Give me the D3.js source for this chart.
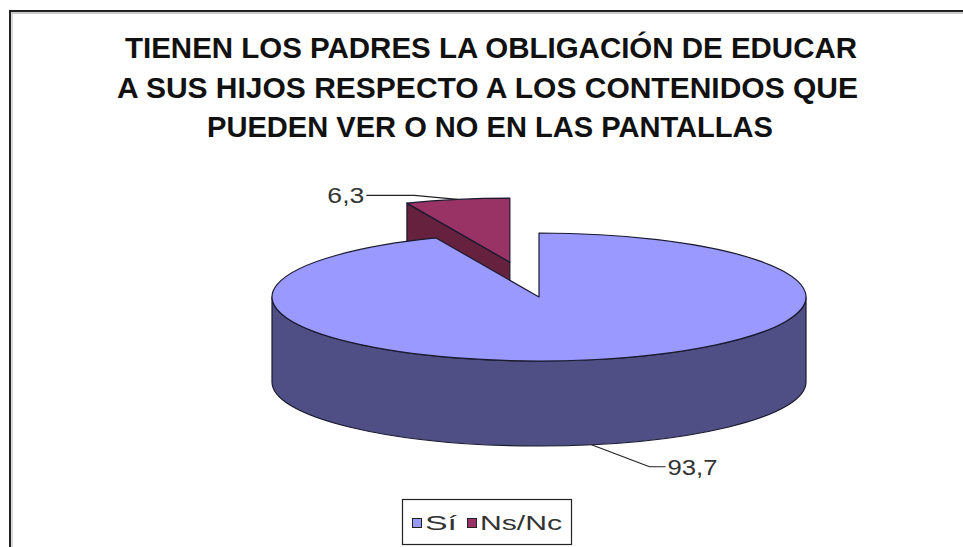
<!DOCTYPE html>
<html>
<head>
<meta charset="utf-8">
<script src="https://cdn.jsdelivr.net/npm/d3@7"></script>
<style>
html,body{margin:0;padding:0;background:#fff;}
svg{display:block;}
</style>
</head>
<body>
<svg id="chart" width="963" height="547"></svg>
<script>
// ---- data ----
const titleLines = [
  "TIENEN LOS PADRES LA OBLIGACIÓN DE EDUCAR",
  "A SUS HIJOS RESPECTO A LOS CONTENIDOS QUE",
  "PUEDEN VER O NO EN LAS PANTALLAS"
];
const categories = ["Sí", "Ns/Nc"];
const values = [93.7, 6.3];
const valueLabels = ["93,7", "6,3"];

// ---- style / layout ----
const topColors = ["#9999FF", "#993366"];
const sideColors = ["#4F4F86", "#66213F"];
const exploded = [0, 0.555];
const W = 963, H = 547;
const cx = 539, cy = 297, rx = 267, ry = 64, depth = 85;

const svg = d3.select("#chart");
svg.append("rect").attr("width", W).attr("height", H).attr("fill", "#fff");

// frame (top + left border with slight shadow)
svg.append("line").attr("x1", 9).attr("x2", W).attr("y1", 13).attr("y2", 13).attr("stroke", "#bbb").attr("stroke-width", 1.5);
svg.append("line").attr("x1", 12).attr("x2", 12).attr("y1", 10).attr("y2", H).attr("stroke", "#ccc").attr("stroke-width", 1.5);
svg.append("line").attr("x1", 9).attr("x2", W).attr("y1", 11).attr("y2", 11).attr("stroke", "#222").attr("stroke-width", 2);
svg.append("line").attr("x1", 10).attr("x2", 10).attr("y1", 10).attr("y2", H).attr("stroke", "#222").attr("stroke-width", 2);

// title
const titleX = [125, 117, 207], titleW = [732, 741, 566], titleY = [58, 98, 137];
svg.append("g").selectAll("text").data(titleLines).join("text")
  .attr("x", (d, i) => titleX[i]).attr("y", (d, i) => titleY[i])
  .attr("textLength", (d, i) => titleW[i]).attr("lengthAdjust", "spacingAndGlyphs")
  .attr("font-family", "Liberation Sans, Arial, sans-serif").attr("font-weight", "bold")
  .attr("font-size", 29).attr("fill", "#111").text(d => d);

// pie geometry via d3.pie
const pie = d3.pie().sort(null).value(d => d)(values);
const slices = pie.map((p, i) => {
  const mid = (p.startAngle + p.endAngle) / 2;
  const e = exploded[i];
  return {
    i, a0: p.startAngle, a1: p.endAngle, mid,
    c: [cx + rx * e * Math.sin(mid), cy - ry * e * Math.cos(mid)]
  };
});
const pt = (c, a, dz = 0) => [c[0] + rx * Math.sin(a), c[1] - ry * Math.cos(a) + dz];
const f = p => p[0].toFixed(2) + "," + p[1].toFixed(2);

function topPath(s) {
  const p0 = pt(s.c, s.a0), p1 = pt(s.c, s.a1);
  const large = (s.a1 - s.a0) > Math.PI ? 1 : 0;
  return `M${f(s.c)}L${f(p0)}A${rx},${ry} 0 ${large} 1 ${f(p1)}Z`;
}
function radialPath(s, a) {
  const p = pt(s.c, a);
  return `M${f(s.c)}L${f(p)}L${f([p[0], p[1] + depth])}L${f([s.c[0], s.c[1] + depth])}Z`;
}
function sidePath(s) {
  const st = Math.max(s.a0, Math.PI / 2), en = Math.min(s.a1, 3 * Math.PI / 2);
  if (en <= st) return null;
  const p0 = pt(s.c, st), p1 = pt(s.c, en);
  const q0 = pt(s.c, st, depth), q1 = pt(s.c, en, depth);
  const large = (en - st) > Math.PI ? 1 : 0;
  return `M${f(p0)}A${rx},${ry} 0 ${large} 1 ${f(p1)}L${f(q1)}A${rx},${ry} 0 ${large} 0 ${f(q0)}Z`;
}

const g = svg.append("g").attr("stroke", "#1a1a2e").attr("stroke-width", 1.2).attr("stroke-linejoin", "round");
// draw back (exploded) slice first, then front slice
const order = [1, 0];
order.forEach(i => {
  const s = slices[i];
  if (Math.sin(s.a0) < -1e-6) g.append("path").attr("d", radialPath(s, s.a0)).attr("fill", sideColors[i]);
  if (Math.sin(s.a1) > 1e-6) g.append("path").attr("d", radialPath(s, s.a1)).attr("fill", sideColors[i]);
  const sp = sidePath(s);
  if (sp) g.append("path").attr("d", sp).attr("fill", sideColors[i]);
  g.append("path").attr("d", topPath(s)).attr("fill", topColors[i]);
});

// value labels with leader lines
const leaderOffsets = [[[58, 22], [16, 0]], [[-43, -4], [-48, 0]]];
slices.forEach((s, i) => {
  const front = Math.cos(s.mid) < 0;
  const anchor = pt(s.c, s.mid, front ? depth : 0);
  const elbow = [anchor[0] + leaderOffsets[i][0][0], anchor[1] + leaderOffsets[i][0][1]];
  const end = [elbow[0] + leaderOffsets[i][1][0], elbow[1] + leaderOffsets[i][1][1]];
  svg.append("path").attr("d", d3.line()([anchor, elbow, end]))
    .attr("fill", "none").attr("stroke", "#222").attr("stroke-width", 1.2);
  const right = end[0] > elbow[0];
  const lw = [50, 37][i];
  svg.append("text")
    .attr("x", right ? end[0] + 2 : end[0] - 2 - lw).attr("y", end[1] + 8)
    .attr("textLength", lw).attr("lengthAdjust", "spacingAndGlyphs")
    .attr("font-family", "Liberation Sans, Arial, sans-serif").attr("font-size", 22)
    .attr("fill", "#333").text(valueLabels[i]);
});

// legend
const lg = svg.append("g");
lg.append("rect").attr("x", 402.5).attr("y", 499.5).attr("width", 169).attr("height", 45)
  .attr("fill", "#fff").attr("stroke", "#222").attr("stroke-width", 1.2);
const legX = [412, 467], legTX = [425, 480], legTW = [32, 82];
categories.forEach((c, i) => {
  lg.append("rect").attr("x", legX[i] + 0.5).attr("y", 518.5).attr("width", 9).attr("height", 9)
    .attr("fill", topColors[i]).attr("stroke", "#222").attr("stroke-width", 1);
  lg.append("text").attr("x", legTX[i]).attr("y", 529.5)
    .attr("textLength", legTW[i]).attr("lengthAdjust", "spacingAndGlyphs")
    .attr("font-family", "Liberation Sans, Arial, sans-serif").attr("font-size", 21)
    .attr("fill", "#333").text(c);
});
</script>
</body>
</html>
